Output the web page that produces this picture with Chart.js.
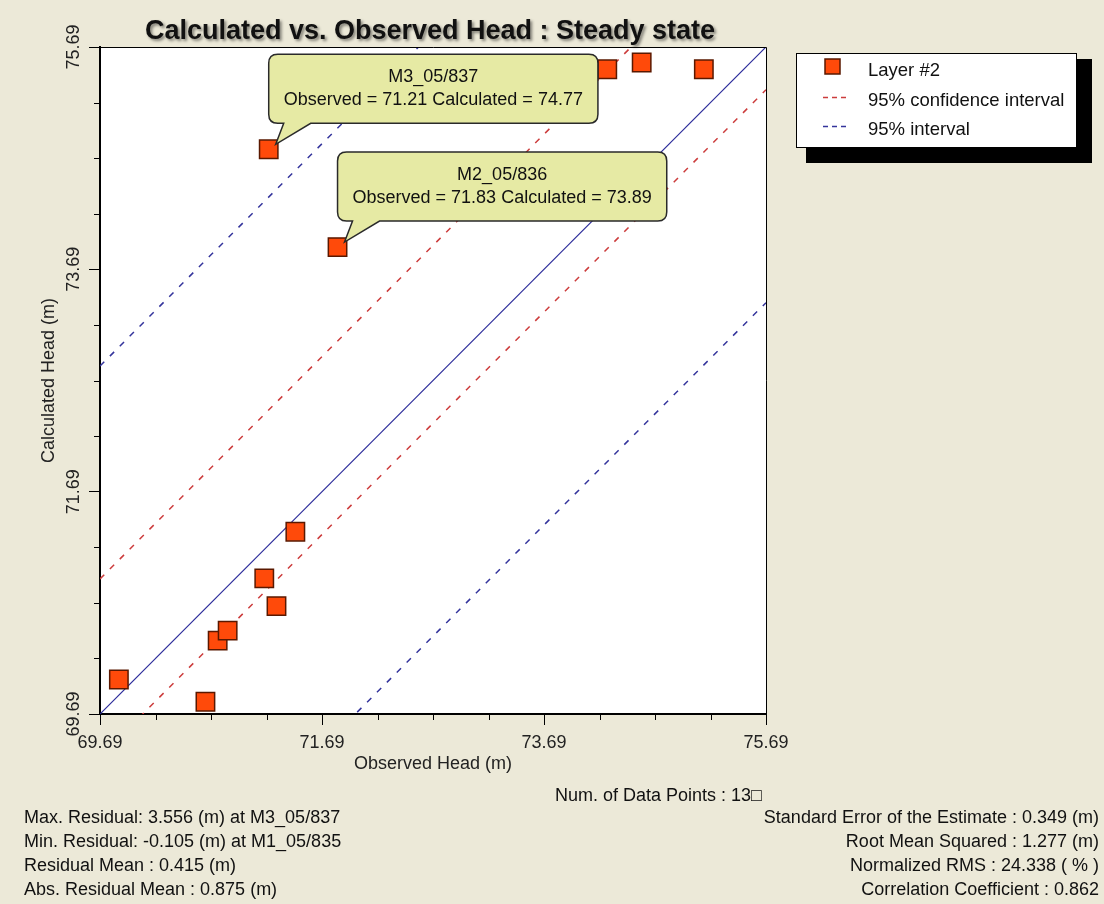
<!DOCTYPE html>
<html lang="en">
<head>
<meta charset="UTF-8" />
<title>Calculated vs. Observed Head : Steady state</title>
<script src="https://cdn.jsdelivr.net/npm/chart.js"></script>
<style>
  html, body { margin: 0; padding: 0; background: #ece9d8; }
  canvas { display: block; }
</style>
</head>
<body>
<canvas id="headChart" width="1104" height="904"></canvas>
<script>
// observed vs calculated head (m)
const observed   = [69.86, 70.64, 70.75, 70.84, 71.17, 71.28, 71.45, 71.21, 71.83, 74.26, 74.57, 75.13];
const calculated = [70.00, 69.80, 70.35, 70.44, 70.91, 70.66, 71.33, 74.77, 73.89, 75.49, 75.55, 75.49];

// the two wells with a callout
const calloutIndex = [7, 8];
const calloutNames = ['M3_05/837', 'M2_05/836'];

// reference lines, given at both ends of the axis range
const lineX      = [69.69, 75.69];
const identityY  = [69.69, 75.69];
const confUpperY = [70.905, 76.905];
const confLowerY = [69.305, 75.305];
const predUpperY = [72.82, 78.82];
const predLowerY = [67.39, 73.39];

const axisTicks  = [69.69, 71.69, 73.69, 75.69];
const minorTicks = [70.19, 70.69, 71.19, 72.19, 72.69, 73.19, 74.19, 74.69, 75.19];

const pointCountText = 'Num. of Data Points : 13\u25A1';
const statsLeft = [
  'Max. Residual: 3.556 (m) at M3_05/837',
  'Min. Residual: -0.105 (m) at M1_05/835',
  'Residual Mean : 0.415 (m)',
  'Abs. Residual Mean : 0.875 (m)'
];
const statsRight = [
  'Standard Error of the Estimate : 0.349 (m)',
  'Root Mean Squared : 1.277 (m)',
  'Normalized RMS : 24.338 ( % )',
  'Correlation Coefficient : 0.862'
];

const BG = '#ece9d8';
const FONT = '"Liberation Sans", Arial, sans-serif';
const MARKER = '#ff4a0a';
const MARKER_EDGE = '#5a1800';
const RED = '#cc3c3c';
const BLUE = '#34349c';
const DASH = [6, 8];

const pair = (xs, ys) => xs.map((x, i) => ({ x: x, y: ys[i] }));

function roundedCallout(ctx, px, py, name, text) {
  ctx.font = '18px ' + FONT;
  const w = Math.max(ctx.measureText(name).width, ctx.measureText(text).width) + 30;
  const h = 69;
  const left = px, bottom = py - 26, top = bottom - h, right = left + w, r = 9;
  ctx.beginPath();
  ctx.moveTo(left + r, top);
  ctx.lineTo(right - r, top);
  ctx.quadraticCurveTo(right, top, right, top + r);
  ctx.lineTo(right, bottom - r);
  ctx.quadraticCurveTo(right, bottom, right - r, bottom);
  ctx.lineTo(left + 42, bottom);
  ctx.lineTo(px + 7, py - 5);
  ctx.lineTo(left + 15, bottom);
  ctx.lineTo(left + r, bottom);
  ctx.quadraticCurveTo(left, bottom, left, bottom - r);
  ctx.lineTo(left, top + r);
  ctx.quadraticCurveTo(left, top, left + r, top);
  ctx.closePath();
  ctx.fillStyle = '#e6eaa4';
  ctx.fill();
  ctx.lineWidth = 1.5;
  ctx.strokeStyle = '#2a2a2a';
  ctx.stroke();
  ctx.fillStyle = '#111';
  ctx.textAlign = 'center';
  ctx.textBaseline = 'middle';
  ctx.fillText(name, left + w / 2, top + 23);
  ctx.fillText(text, left + w / 2, top + 46);
}

const decor = {
  id: 'decor',
  beforeDraw(chart) {
    const { ctx, chartArea: a } = chart;
    ctx.save();
    ctx.fillStyle = BG;
    ctx.fillRect(0, 0, chart.width, chart.height);
    ctx.fillStyle = '#fff';
    ctx.fillRect(a.left, a.top, a.right - a.left, a.bottom - a.top);
    ctx.restore();
  },
  afterDatasetsDraw(chart) {
    const ctx = chart.ctx;
    const meta = chart.getDatasetMeta(0);
    ctx.save();
    calloutIndex.forEach((idx, k) => {
      const el = meta.data[idx];
      const txt = 'Observed = ' + observed[idx].toFixed(2) + ' Calculated = ' + calculated[idx].toFixed(2);
      roundedCallout(ctx, el.x, el.y, calloutNames[k], txt);
    });
    ctx.restore();
  },
  afterDraw(chart) {
    const { ctx, chartArea: a, scales } = chart;
    ctx.save();

    // top / right frame
    ctx.strokeStyle = '#000';
    ctx.lineWidth = 1;
    ctx.beginPath();
    ctx.moveTo(a.left, a.top + 0.5);
    ctx.lineTo(a.right + 0.5, a.top + 0.5);
    ctx.lineTo(a.right + 0.5, a.bottom);
    ctx.stroke();

    // minor ticks
    ctx.beginPath();
    minorTicks.forEach(v => {
      const x = Math.round(scales.x.getPixelForValue(v)) + 0.5;
      ctx.moveTo(x, a.bottom);
      ctx.lineTo(x, a.bottom + 6);
      const y = Math.round(scales.y.getPixelForValue(v)) + 0.5;
      ctx.moveTo(a.left, y);
      ctx.lineTo(a.left - 6, y);
    });
    ctx.stroke();

    // title
    ctx.font = 'bold 27px ' + FONT;
    ctx.textAlign = 'center';
    ctx.textBaseline = 'middle';
    ctx.shadowColor = 'rgba(0,0,0,0.45)';
    ctx.shadowBlur = 3;
    ctx.shadowOffsetX = 2;
    ctx.shadowOffsetY = 2;
    ctx.fillStyle = '#111';
    ctx.fillText('Calculated vs. Observed Head : Steady state', (a.left + a.right) / 2 - 3, 32);
    ctx.shadowColor = 'transparent';
    ctx.shadowBlur = 0;
    ctx.shadowOffsetX = 0;
    ctx.shadowOffsetY = 0;

    // legend with drop shadow
    ctx.fillStyle = '#000';
    ctx.fillRect(806, 59, 286, 104);
    ctx.fillStyle = '#fff';
    ctx.fillRect(796, 53, 280, 94);
    ctx.strokeStyle = '#000';
    ctx.lineWidth = 1;
    ctx.strokeRect(796.5, 53.5, 280, 94);

    const ds = chart.data.datasets;
    const entries = [];
    ds.forEach(d => { if (d.label && !entries.find(e => e.label === d.label)) entries.push(d); });
    ctx.font = '18.5px ' + FONT;
    ctx.textAlign = 'left';
    ctx.textBaseline = 'middle';
    const rows = [71, 101, 130];
    entries.forEach((d, i) => {
      const ty = rows[i];
      if (d.showLine) {
        ctx.strokeStyle = d.borderColor;
        ctx.lineWidth = 1.5;
        ctx.setLineDash([5, 4]);
        ctx.beginPath();
        ctx.moveTo(823, ty - 3.5);
        ctx.lineTo(850, ty - 3.5);
        ctx.stroke();
        ctx.setLineDash([]);
      } else {
        ctx.fillStyle = d.backgroundColor;
        ctx.fillRect(825, 59, 15, 15);
        ctx.strokeStyle = d.borderColor;
        ctx.lineWidth = 1.5;
        ctx.strokeRect(825, 59, 15, 15);
      }
      ctx.fillStyle = '#111';
      ctx.fillText(d.label, 868, ty);
    });

    // statistics
    ctx.fillStyle = '#111';
    ctx.font = '18px ' + FONT;
    ctx.textAlign = 'left';
    ctx.fillText(pointCountText, 555, 796);
    const rowY = [818, 842, 866, 890];
    statsLeft.forEach((s, i) => ctx.fillText(s, 24, rowY[i]));
    ctx.textAlign = 'right';
    statsRight.forEach((s, i) => ctx.fillText(s, 1099, rowY[i]));

    ctx.restore();
  }
};

Chart.defaults.font.family = FONT;

const lineStyle = (color) => ({ showLine: true, pointRadius: 0, borderColor: color, borderWidth: 1.5, borderDash: DASH });

const ctx = document.getElementById('headChart').getContext('2d');
new Chart(ctx, {
  type: 'scatter',
  data: {
    datasets: [
      {
        label: 'Layer #2',
        data: pair(observed, calculated),
        pointStyle: 'rect',
        pointRadius: 13,
        backgroundColor: MARKER,
        borderColor: MARKER_EDGE,
        borderWidth: 1.5,
        showLine: false
      },
      Object.assign({ label: '95% confidence interval', data: pair(lineX, confUpperY) }, lineStyle(RED)),
      Object.assign({ label: '95% confidence interval', data: pair(lineX, confLowerY) }, lineStyle(RED)),
      Object.assign({ label: '95% interval', data: pair(lineX, predUpperY) }, lineStyle(BLUE)),
      Object.assign({ label: '95% interval', data: pair(lineX, predLowerY) }, lineStyle(BLUE)),
      {
        label: '',
        data: pair(lineX, identityY),
        showLine: true, pointRadius: 0, borderColor: '#2b2b9a', borderWidth: 1.2
      }
    ]
  },
  options: {
    responsive: false,
    devicePixelRatio: 1,
    animation: false,
    layout: { padding: { left: 0, top: 47, right: 338, bottom: 110 } },
    plugins: {
      legend: { display: false },
      tooltip: { enabled: false }
    },
    scales: {
      x: {
        type: 'linear',
        min: 69.69,
        max: 75.69,
        afterBuildTicks: s => { s.ticks = axisTicks.map(v => ({ value: v })); },
        afterFit: s => { s.height = 80; },
        ticks: { callback: v => v.toFixed(2), color: '#222', font: { size: 18 }, padding: 7, autoSkip: false, maxRotation: 0 },
        grid: { drawOnChartArea: false, tickLength: 11, tickColor: '#000', tickWidth: 1 },
        border: { color: '#000', width: 2 },
        title: { display: true, text: 'Observed Head (m)', color: '#222', font: { size: 18 }, padding: { top: 0, bottom: 19 } }
      },
      y: {
        type: 'linear',
        min: 69.69,
        max: 75.69,
        afterBuildTicks: s => { s.ticks = axisTicks.map(v => ({ value: v })); },
        afterFit: s => { s.width = 100; },
        ticks: { callback: v => v.toFixed(2), color: '#222', font: { size: 18 }, padding: -8, autoSkip: false, minRotation: 90, maxRotation: 90, crossAlign: 'center' },
        grid: { drawOnChartArea: false, tickLength: 11, tickColor: '#000', tickWidth: 1 },
        border: { color: '#000', width: 2 },
        title: { display: true, text: 'Calculated Head (m)', color: '#222', font: { size: 18 }, padding: { top: 38, bottom: 0 } }
      }
    }
  },
  plugins: [decor]
});
</script>
</body>
</html>
